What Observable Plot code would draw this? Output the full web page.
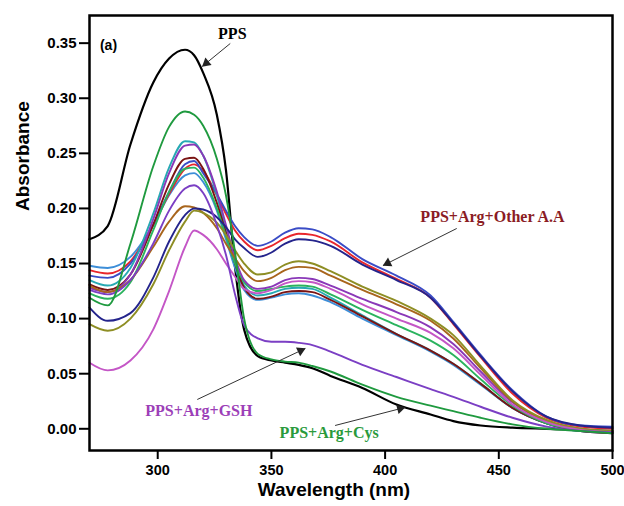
<!DOCTYPE html>
<html>
<head>
<meta charset="utf-8">
<script src="https://cdn.jsdelivr.net/npm/d3@7"></script>
<script src="https://cdn.jsdelivr.net/npm/@observablehq/plot@0.6"></script>
<style>
  html, body { margin: 0; padding: 0; background: #fff; }
</style>
</head>
<body>
<div id="chart"></div>
<script>
// Wavelength grid (nm) shared by all spectra
const wavelengths = [270, 278, 288, 298, 305, 312, 316, 320, 326, 330, 334, 338, 344, 350, 356, 362, 368, 376, 390, 405, 420, 430, 442, 456, 471, 486, 500];

// Absorbance values per spectrum
const pps      = [0.172, 0.184, 0.258, 0.314, 0.336, 0.344, 0.339, 0.323, 0.285, 0.235, 0.147, 0.090, 0.066, 0.062, 0.060, 0.058, 0.055, 0.048, 0.037, 0.022, 0.013, 0.007, 0.003, 0.001, 0.000, -0.001, -0.002];
const argCys   = [0.119, 0.112, 0.168, 0.238, 0.274, 0.288, 0.285, 0.275, 0.245, 0.212, 0.160, 0.100, 0.068, 0.063, 0.061, 0.060, 0.057, 0.052, 0.040, 0.029, 0.021, 0.016, 0.010, 0.004, 0.000, -0.002, -0.004];
const argGSH   = [0.126, 0.122, 0.135, 0.168, 0.198, 0.218, 0.221, 0.214, 0.185, 0.158, 0.122, 0.094, 0.082, 0.079, 0.079, 0.078, 0.076, 0.070, 0.058, 0.047, 0.036, 0.029, 0.020, 0.010, 0.002, -0.002, -0.003];
const aaBlue   = [0.139, 0.137, 0.150, 0.185, 0.215, 0.240, 0.243, 0.232, 0.213, 0.198, 0.184, 0.174, 0.166, 0.170, 0.178, 0.182, 0.181, 0.174, 0.154, 0.139, 0.121, 0.097, 0.067, 0.035, 0.011, 0.003, 0.002];
const aaRed    = [0.144, 0.141, 0.152, 0.185, 0.213, 0.236, 0.240, 0.234, 0.212, 0.195, 0.180, 0.170, 0.162, 0.166, 0.173, 0.177, 0.176, 0.170, 0.151, 0.136, 0.119, 0.095, 0.065, 0.032, 0.010, 0.002, 0.000];
const aaNavy   = [0.110, 0.098, 0.105, 0.137, 0.170, 0.194, 0.200, 0.199, 0.192, 0.183, 0.172, 0.164, 0.156, 0.160, 0.168, 0.172, 0.171, 0.166, 0.149, 0.135, 0.119, 0.096, 0.066, 0.034, 0.011, 0.003, 0.001];
const aaOlive  = [0.095, 0.089, 0.100, 0.131, 0.162, 0.188, 0.198, 0.196, 0.187, 0.176, 0.162, 0.150, 0.140, 0.142, 0.149, 0.152, 0.150, 0.143, 0.129, 0.116, 0.100, 0.085, 0.057, 0.026, 0.008, 0.000, -0.002];
const aaBrown  = [0.130, 0.124, 0.135, 0.165, 0.188, 0.202, 0.201, 0.196, 0.182, 0.168, 0.155, 0.143, 0.134, 0.137, 0.144, 0.147, 0.146, 0.139, 0.126, 0.113, 0.098, 0.082, 0.055, 0.025, 0.007, 0.000, -0.003];
const aaViolet = [0.128, 0.124, 0.140, 0.190, 0.232, 0.257, 0.258, 0.248, 0.215, 0.185, 0.155, 0.135, 0.127, 0.129, 0.135, 0.137, 0.136, 0.130, 0.118, 0.106, 0.092, 0.077, 0.052, 0.024, 0.007, 0.000, -0.003];
const aaPink   = [0.060, 0.053, 0.062, 0.090, 0.125, 0.165, 0.180, 0.176, 0.163, 0.150, 0.138, 0.127, 0.123, 0.126, 0.132, 0.134, 0.133, 0.127, 0.113, 0.100, 0.087, 0.073, 0.049, 0.022, 0.006, -0.001, -0.003];
const aaGreen  = [0.123, 0.118, 0.133, 0.180, 0.215, 0.236, 0.237, 0.228, 0.200, 0.175, 0.150, 0.133, 0.125, 0.127, 0.129, 0.130, 0.129, 0.122, 0.108, 0.094, 0.080, 0.067, 0.045, 0.021, 0.005, -0.001, -0.003];
const aaTeal   = [0.135, 0.130, 0.146, 0.195, 0.237, 0.261, 0.260, 0.248, 0.212, 0.180, 0.150, 0.130, 0.121, 0.123, 0.127, 0.128, 0.127, 0.119, 0.103, 0.086, 0.071, 0.059, 0.041, 0.019, 0.005, -0.002, -0.003];
const aaDarkRed= [0.131, 0.126, 0.140, 0.185, 0.222, 0.245, 0.246, 0.236, 0.205, 0.178, 0.150, 0.128, 0.118, 0.120, 0.124, 0.125, 0.124, 0.117, 0.102, 0.086, 0.071, 0.059, 0.041, 0.019, 0.005, -0.002, -0.004];
const aaSteel  = [0.148, 0.146, 0.156, 0.185, 0.212, 0.230, 0.232, 0.224, 0.198, 0.172, 0.146, 0.126, 0.117, 0.119, 0.122, 0.123, 0.121, 0.115, 0.100, 0.085, 0.070, 0.058, 0.040, 0.019, 0.005, -0.002, -0.004];

// Series in drawing order with colours
const seriesNames  = ["PPS", "Steel", "Red", "Blue", "Teal", "DarkRed", "Green", "Violet", "Brown", "Olive", "Navy", "Pink", "GSH", "Cys"];
const seriesValues = [pps, aaSteel, aaRed, aaBlue, aaTeal, aaDarkRed, aaGreen, aaViolet, aaBrown, aaOlive, aaNavy, aaPink, argGSH, argCys];
const seriesColors = ["#000000", "#3d8ed8", "#e8262c", "#3a4cc6", "#27a9b3", "#7a1414", "#2bb35e", "#8a38b8", "#a8651c", "#8e8e24", "#24248c", "#c456c6", "#7b3fc4", "#1f9a3f"];

// Ticks
const xTicks = [300, 350, 400, 450, 500];
const yTicks = [0.00, 0.05, 0.10, 0.15, 0.20, 0.25, 0.30, 0.35];

// Annotations (data units)
const labelText  = ["PPS", "PPS+Arg+Other A.A", "PPS+Arg+GSH", "PPS+Arg+Cys"];
const labelX     = [332.8, 447.2, 318.1, 375.4];
const labelY     = [0.358, 0.1922, 0.0166, -0.0034];
const labelColor = ["#000000", "#8b1c24", "#9c3fb8", "#2a9a3c"];
const arrowX1 = [331.9, 431.5, 317.4, 378.0];
const arrowY1 = [0.3497, 0.1818, 0.0266, 0.0030];
const arrowX2 = [319.6, 399.1, 364.9, 408.8];
const arrowY2 = [0.3289, 0.1482, 0.0729, 0.0194];

const dims = {
  width: 624,
  height: 506,
  marginLeft: 89,
  marginRight: 12,
  marginTop: 15,
  marginBottom: 56,
  x: {domain: [270, 500]},
  y: {domain: [-0.0197, 0.3751]}
};

// First pass: obtain the scales to orient the filled arrowheads
const probe = Plot.plot({...dims, marks: [Plot.frame()]});
const sx = probe.scale("x"), sy = probe.scale("y");

const lineMarks = seriesNames.map((name, i) => {
  const rows = wavelengths.map((w, j) => ({w, a: seriesValues[i][j]}));
  return Plot.line(rows, {x: "w", y: "a", stroke: seriesColors[i], strokeWidth: name === "PPS" ? 2.2 : 1.9, curve: "monotone-x"});
});

const labels = labelText.map((t, i) => ({t, x: labelX[i], y: labelY[i], c: labelColor[i]}));
const arrows = arrowX1.map((x1, i) => {
  const px1 = sx.apply(x1), py1 = sy.apply(arrowY1[i]);
  const px2 = sx.apply(arrowX2[i]), py2 = sy.apply(arrowY2[i]);
  const len = Math.hypot(px2 - px1, py2 - py1);
  const ux = (px2 - px1) / len, uy = (py2 - py1) / len;
  const back = 5.2;
  return {
    x1, y1: arrowY1[i], x2: arrowX2[i], y2: arrowY2[i],
    hx: sx.invert(px2 - ux * back), hy: sy.invert(py2 - uy * back),
    rot: Math.atan2(uy, ux) * 180 / Math.PI + 90
  };
});

const chart = Plot.plot({
  ...dims,
  style: {fontFamily: "'Liberation Sans', Arial, sans-serif", background: "#fff", color: "#000", overflow: "visible"},
  marks: [
    ...lineMarks,
    Plot.link(arrows, {x1: "x1", y1: "y1", x2: "x2", y2: "y2", stroke: "#333", strokeWidth: 1}),
    Plot.dot(arrows, {x: "hx", y: "hy", symbol: "triangle", r: 3.6, fill: "#222", stroke: "none", rotate: "rot"}),
    Plot.text(labels, {x: "x", y: "y", text: "t", fill: "c", fontFamily: "'Liberation Serif', 'Times New Roman', serif", fontWeight: "bold", fontSize: 16}),
    Plot.text(["(a)"], {frameAnchor: "top-left", dx: 19, dy: 25, fontSize: 14, fontWeight: "bold", textAnchor: "middle"}),
    Plot.axisX({ticks: xTicks, tickSize: 9, tickPadding: 5, strokeWidth: 2, fontSize: 14.5, fontWeight: "bold", label: null, tickFormat: d => String(d)}),
    Plot.axisY({ticks: yTicks, tickSize: 10, tickPadding: 3, strokeWidth: 2, fontSize: 15, fontWeight: "bold", label: null, tickFormat: d3.format(".2f")}),
    Plot.text(["Wavelength (nm)"], {frameAnchor: "bottom", dx: -17, dy: 45, fontSize: 19, fontWeight: "bold"}),
    Plot.text(["Absorbance"], {frameAnchor: "left", rotate: -90, dx: -67, dy: -22, fontSize: 19, fontWeight: "bold"}),
    Plot.frame({stroke: "#000", strokeWidth: 2.5})
  ]
});

document.getElementById("chart").appendChild(chart);
</script>
</body>
</html>
